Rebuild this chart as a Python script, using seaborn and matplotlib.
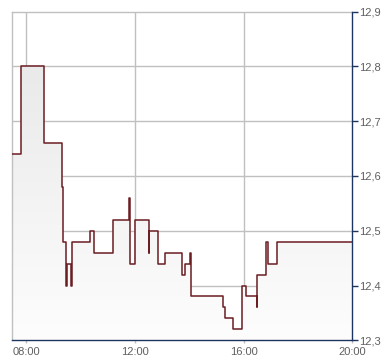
import numpy as np
import pandas as pd
import matplotlib
matplotlib.use("Agg")
import matplotlib.pyplot as plt
import seaborn as sns
from matplotlib.colors import LinearSegmentedColormap

# ---- data (decimal hours, price) ----
times = [7.485, 7.794, 8.662, 9.325, 9.351, 9.472, 9.498, 9.656, 9.682,
         10.356, 10.503, 11.209, 11.791, 11.828, 12.012, 12.505, 12.527,
         12.858, 13.105, 13.730, 13.852, 14.036, 14.062, 15.251, 15.324,
         15.619, 15.928, 16.097, 16.480, 16.502, 16.822, 16.896, 17.216, 20.0]
prices = [12.64, 12.80, 12.66, 12.58, 12.48, 12.40, 12.44, 12.40, 12.48,
          12.50, 12.46, 12.52, 12.56, 12.44, 12.52, 12.46, 12.50,
          12.44, 12.46, 12.42, 12.44, 12.46, 12.38, 12.36, 12.34,
          12.32, 12.40, 12.38, 12.36, 12.42, 12.48, 12.44, 12.48, 12.48]
x_ticks = [8, 12, 16, 20]
x_labels = ["08:00", "12:00", "16:00", "20:00"]
y_ticks = [12.3, 12.4, 12.5, 12.6, 12.7, 12.8, 12.9]
y_labels = ["12,3", "12,4", "12,5", "12,6", "12,7", "12,8", "12,9"]

sns.set_theme(style="white")
plt.rcParams["font.family"] = ["Liberation Sans", "DejaVu Sans"]

W, H = 390, 364
fig = plt.figure(figsize=(W / 100, H / 100), dpi=100)
l, r, t, b = 12.3, 352.3, 11.5, 340.3
ax = fig.add_axes([l / W, 1 - b / H, (r - l) / W, (b - t) / H])

df = pd.DataFrame({"t": times, "p": prices})
xmin, xmax, ymin, ymax = 7.485, 20.0, 12.3, 12.9

# gradient fill under the step line
poly = ax.fill_between(df["t"], df["p"], ymin, step="post", color="none", lw=0)
cmap = LinearSegmentedColormap.from_list("g", ["#fdfdfd", "#e6e6e6"])
grad = np.linspace(0, 1, 256).reshape(-1, 1)
img = ax.imshow(grad, extent=[xmin, xmax, ymin, ymax], aspect="auto",
                cmap=cmap, origin="lower", zorder=1, interpolation="bilinear")
img.set_clip_path(poly.get_paths()[0], transform=ax.transData)

sns.lineplot(data=df, x="t", y="p", drawstyle="steps-post", color="#6b1d22",
             lw=1.1, ax=ax, zorder=3, sort=False)

ax.set_xlim(xmin, xmax)
ax.set_ylim(ymin, ymax)
ax.set_xlabel("")
ax.set_ylabel("")

ax.set_xticks(x_ticks)
ax.set_xticklabels(x_labels)
ax.set_yticks(y_ticks)
ax.set_yticklabels(y_labels)
ax.yaxis.tick_right()

grid_c = "#c0c0c0"
for xv in x_ticks[:-1]:
    ax.axvline(xv, color=grid_c, lw=1.0, zorder=0.5)
for yv in y_ticks[1:-1]:
    ax.axhline(yv, color=grid_c, lw=1.0, zorder=0.5)

navy = "#1c3461"
for s in ["left", "top"]:
    ax.spines[s].set_color(grid_c)
    ax.spines[s].set_linewidth(1.0)
for s in ["right", "bottom"]:
    ax.spines[s].set_color(navy)
    ax.spines[s].set_linewidth(1.0)
    ax.spines[s].set_zorder(4)

ax.tick_params(axis="y", which="both", right=True, left=False, length=4,
               width=1, color=navy, pad=1, labelsize=8, labelcolor="#606060")
ax.tick_params(axis="x", which="both", bottom=True, length=2, width=1,
               color=grid_c, pad=3, labelsize=8, labelcolor="#606060")

fig.savefig("out.png", dpi=100)
